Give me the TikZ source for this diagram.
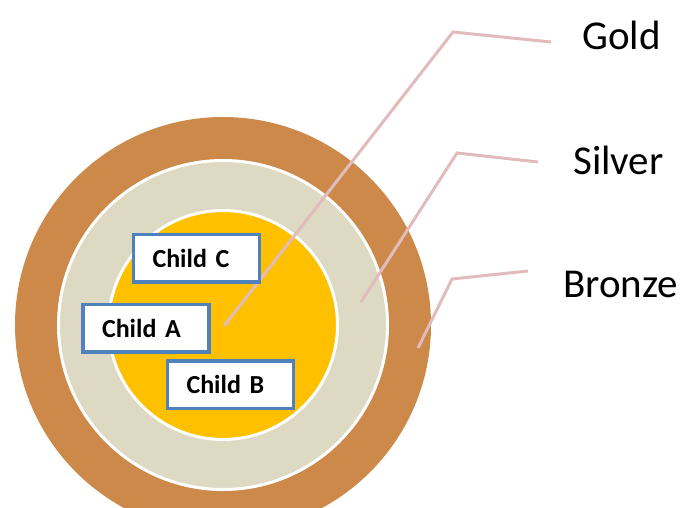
\documentclass[tikz,border=0pt]{standalone}
\usepackage{fontspec}
\setmainfont{Carlito}
\usetikzlibrary{positioning}
\definecolor{bronze}{RGB}{204,137,73}
\definecolor{silver}{RGB}{221,217,195}
\definecolor{gold}{RGB}{255,192,0}
\definecolor{boxrule}{RGB}{79,129,189}
\definecolor{leader}{RGB}{226,188,188}

\begin{document}
\begin{tikzpicture}[x=1pt,y=1pt,
  ring/.style={draw=white,line width=3pt},
  child/.style={draw=boxrule,line width=3.5pt,fill=white,text width=88pt,align=left,inner xsep=19pt,inner ysep=0pt,minimum height=47.5pt,font=\fontsize{26}{28}\selectfont\bfseries},
  lbl/.style={anchor=base west,inner sep=0pt,font=\fontsize{41}{44}\selectfont},
  lead/.style={draw=leader,line width=3pt}
]
\useasboundingbox (0,0) rectangle (684,507);
\clip (0,0) rectangle (684,507);
% rings
\coordinate (c) at (223,182);
\fill[bronze] (c) circle (208);
\path[ring,fill=silver] (c) circle (164.5);
\path[ring,fill=gold] (c) circle (114.5);
% leader lines
\coordinate (goldtip) at (224,181);
\coordinate (goldbend) at (453,475);
\coordinate (goldend) at (551,465);
\coordinate (silvertip) at (361,205);
\coordinate (silverbend) at (457,354);
\coordinate (silverend) at (538,345);
\coordinate (bronzetip) at (418,159);
\coordinate (bronzebend) at (452,228);
\coordinate (bronzeend) at (528,236);
\draw[lead] (goldtip) -- (goldbend) -- (goldend);
\draw[lead] (silvertip) -- (silverbend) -- (silverend);
\draw[lead] (bronzetip) -- (bronzebend) -- (bronzeend);
% labels
\node[lbl] (gold) at (582,457) {Gold};
\node[lbl] (silver) at (573,333) {Silver};
\node[lbl] (bronze) at (563,210) {Bronze};
% children
\node[child] (childc) at (196.5,249) {Child C};
\node[child] (childa) at (146,179) {Child A};
\node[child] (childb) at (230.5,122.5) {Child B};
\end{tikzpicture}
\end{document}
